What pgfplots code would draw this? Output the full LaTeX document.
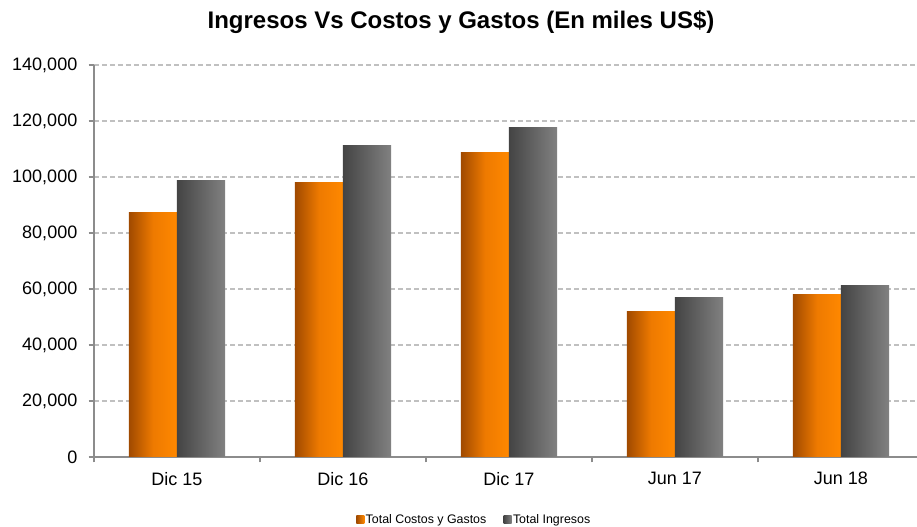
\documentclass[border=0pt]{standalone}
\usepackage{pgfplots}
\pgfplotsset{compat=1.18}
\usepackage{fontspec}
\setmainfont{Liberation Sans}
\definecolor{axgray}{HTML}{8C8C8C}
\definecolor{gridgray}{HTML}{C0C0C0}
\definecolor{orL}{HTML}{A04A00}
\definecolor{orM}{HTML}{EE7A00}
\definecolor{orR}{HTML}{FF8800}
\definecolor{grL}{HTML}{444444}
\definecolor{grR}{HTML}{818181}
\pgfplotsset{
  orbar/.style={draw=none, left color=orL, right color=orR, middle color=orM, bar shift=-0.145, forget plot},
  grbar/.style={draw=none, left color=grL, right color=grR, bar shift=0.145, forget plot},
}
\begin{document}
\begin{tikzpicture}
\useasboundingbox (-70.5pt,-52.5pt) rectangle (617.25pt,342.75pt);
\begin{axis}[
  scale only axis,
  width=617.25pt, height=294pt,
  ybar, bar width=0.29,
  xmin=-0.5, xmax=4.458,
  ymin=0, ymax=140000,
  ytick={0,20000,...,140000},
  scaled y ticks=false,
  /pgf/number format/.cd, fixed, 1000 sep={,}, assume math mode=true, /pgfplots/.cd,
  xtick={0,1,2,3,4},
  xticklabels={Dic 15,Dic 16,Dic 17,Jun 17,Jun 18},
  minor xtick={-0.5,0.5,1.5,2.5,3.5},
  major x tick style={draw=none},
  minor x tick style={axgray, line width=1.2pt},
  minor tick length=4pt,
  y tick style={axgray, line width=1.2pt},
  major tick length=4pt,
  tick align=outside,
  axis x line*=bottom,
  axis y line*=left,
  axis line style={axgray, line width=1.5pt, -},
  ymajorgrids,
  grid style={gridgray, line width=1.2pt, dash pattern=on 3.75pt off 2.25pt},
  tick label style={font=\fontsize{13.5}{15}\selectfont},
  xticklabel style={yshift=-4pt},
  yticklabel style={xshift=-5pt},
  legend style={at={(0.4617,-0.1607)}, anchor=center, draw=none, fill=none,
    legend columns=2, font=\fontsize{9.3}{11}\selectfont,
    /tikz/every even column/.append style={column sep=12pt},
    nodes={inner sep=1pt}},
  legend image code/.code={\path[#1,draw=none] (0pt,-3pt) rectangle (6pt,3pt);},
  clip=false,
]
\addlegendimage{draw=none, left color=orL, right color=orR}
\addlegendentry{Total Costos y Gastos}
\addlegendimage{draw=none, left color=grL, right color=grR}
\addlegendentry{Total Ingresos}
% Total Costos y Gastos
\addplot[orbar] coordinates {(0,87200)};
\addplot[orbar] coordinates {(1,98200)};
\addplot[orbar] coordinates {(2,108600)};
\addplot[orbar] coordinates {(3,51800)};
\addplot[orbar] coordinates {(4,57900)};
% Total Ingresos
\addplot[grbar] coordinates {(0,98900)};
\addplot[grbar] coordinates {(1,111400)};
\addplot[grbar] coordinates {(2,117500)};
\addplot[grbar] coordinates {(3,56800)};
\addplot[grbar] coordinates {(4,61100)};
\end{axis}
\node at (275.25pt,326.25pt) {\bfseries\fontsize{18}{21}\selectfont Ingresos Vs Costos y Gastos (En miles US\$)};
\end{tikzpicture}
\end{document}
